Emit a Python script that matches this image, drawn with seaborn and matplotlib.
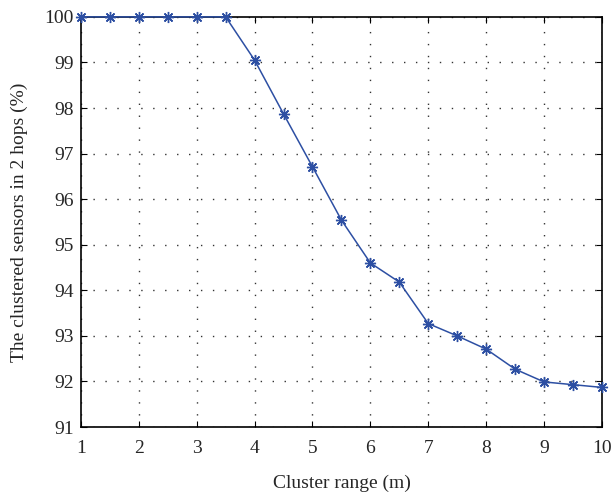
import matplotlib
matplotlib.use("Agg")
import matplotlib.pyplot as plt
import numpy as np
import pandas as pd
import seaborn as sns

cluster_range = [1, 1.5, 2, 2.5, 3, 3.5, 4, 4.5, 5, 5.5, 6, 6.5, 7, 7.5, 8, 8.5, 9, 9.5, 10]
clustered_pct = [100, 100, 100, 100, 100, 100, 99.05, 97.87, 96.71, 95.54, 94.60,
                 94.18, 93.27, 93.00, 92.71, 92.27, 91.99, 91.93, 91.87]
x_ticks = list(range(1, 11))
y_ticks = list(range(91, 101))


def setup_style() -> None:
    sns.set_theme(style="ticks")
    plt.rcParams.update({
        "font.family": ["Liberation Serif", "DejaVu Serif"],
        "font.size": 13,
        "xtick.direction": "in",
        "ytick.direction": "in",
    })


setup_style()
df = pd.DataFrame({"range": cluster_range, "pct": clustered_pct})

fig = plt.figure(figsize=(6.13, 4.96), dpi=100)
ax = fig.add_axes([0.132, 0.139, 0.850, 0.827])

line_color = "#2d4fa3"
sns.lineplot(data=df, x="range", y="pct", ax=ax, color=line_color,
             linewidth=1.1, marker=(8, 2, 0), markersize=8, markeredgewidth=1.0,
             markeredgecolor=line_color, clip_on=False, zorder=3)

ax.set_xlim(1, 10)
ax.set_ylim(91, 100)
ax.set_xticks(x_ticks)
ax.set_yticks(y_ticks)
ax.tick_params(axis="both", labelsize=14, length=4, width=0.8, color="black",
               top=True, right=True)
ax.tick_params(axis="x", pad=9)
ax.tick_params(axis="y", pad=5)
ax.grid(True, linestyle=(0, (1, 7.6)), color="#333333", linewidth=1.0)
for spine in ax.spines.values():
    spine.set_color("black")
    spine.set_linewidth(1.2)

ax.set_xlabel("Cluster range (m)", fontsize=14, labelpad=13)
ax.set_ylabel("The clustered sensors in 2 hops (%)", fontsize=14, labelpad=12)

plt.savefig("out.png", dpi=100)
plt.close()
print("Saved: out.png")
